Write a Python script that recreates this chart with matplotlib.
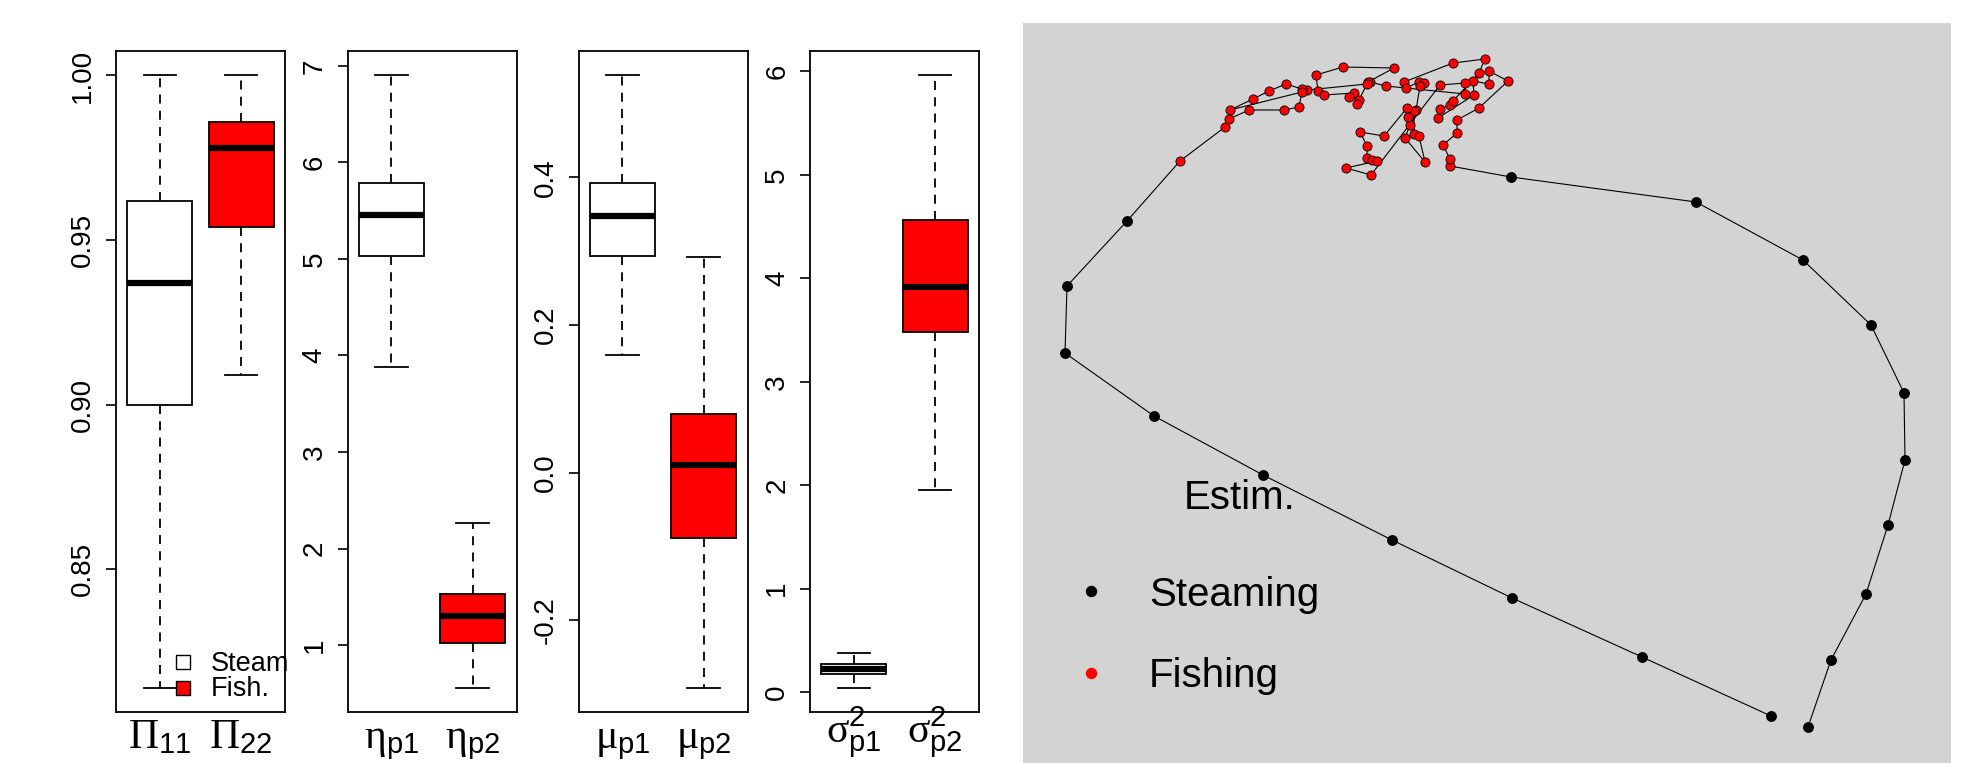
import matplotlib
matplotlib.use("Agg")
import numpy as np
import matplotlib.pyplot as plt

plt.rcParams['font.family'] = ['Liberation Sans', 'DejaVu Sans']
plt.rcParams['mathtext.fontset'] = 'custom'
plt.rcParams['mathtext.rm'] = 'Liberation Serif'
plt.rcParams['mathtext.sf'] = 'Liberation Sans'
plt.rcParams['mathtext.default'] = 'rm'

# ---------------------------------------------------------------
# box summaries: whisker low, q1, median, q3, whisker high
# ---------------------------------------------------------------
pi_steam = [0.814, 0.900, 0.937, 0.962, 1.000]
pi_fish = [0.909, 0.954, 0.978, 0.986, 1.000]
eta_steam = [3.88, 5.03, 5.45, 5.79, 6.90]
eta_fish = [0.56, 1.02, 1.30, 1.53, 2.26]
mu_steam = [0.160, 0.294, 0.347, 0.393, 0.538]
mu_fish = [-0.291, -0.088, 0.011, 0.079, 0.292]
sig_steam = [0.045, 0.180, 0.228, 0.275, 0.378]
sig_fish = [1.95, 3.48, 3.92, 4.56, 5.96]

pi_labels = [r'$\Pi_{\mathsf{11}}$', r'$\Pi_{\mathsf{22}}$']
eta_labels = [r'$\eta_{\mathsf{p1}}$', r'$\eta_{\mathsf{p2}}$']
mu_labels = [r'$\mu_{\mathsf{p1}}$', r'$\mu_{\mathsf{p2}}$']
sig_labels = [r'$\sigma^{\mathsf{2}}_{\mathsf{p1}}$', r'$\sigma^{\mathsf{2}}_{\mathsf{p2}}$']

pi_ticks = [0.85, 0.90, 0.95, 1.00]
pi_ticklabels = ['0.85', '0.90', '0.95', '1.00']
eta_ticks = [1, 2, 3, 4, 5, 6, 7]
mu_ticks = [-0.2, 0.0, 0.2, 0.4]
mu_ticklabels = ['-0.2', '0.0', '0.2', '0.4']
sig_ticks = [0, 1, 2, 3, 4, 5, 6]

# ---------------------------------------------------------------
# estimated track (arbitrary km units): steaming out, fishing, steaming back
# ---------------------------------------------------------------
steam_out_x = [80.8, 83.1, 86.6, 88.8, 90.5, 90.4, 87.1, 80.3, 69.6, 51.1]
steam_out_y = [7.3, 14.0, 20.6, 27.5, 34.0, 40.7, 47.5, 54.0, 59.8, 62.3]

fish_x = [45.0, 45.0, 44.3, 45.7, 45.7, 47.9, 50.8, 48.9, 48.9, 47.3,
          47.4, 43.8, 44.0, 45.0, 45.3, 47.9, 48.5, 45.3, 40.4, 40.6,
          41.9, 42.4, 42.0, 41.6, 41.4, 41.4, 41.9, 42.5, 40.5, 41.0,
          40.8, 40.7, 38.4, 36.0, 36.7, 36.7, 37.2, 37.7, 34.6, 37.1,
          44.0, 46.5, 46.5, 38.6, 37.0, 36.8, 39.4, 34.3, 31.6, 31.8,
          32.4, 35.4, 34.9, 35.9, 35.7, 36.7, 30.7, 30.2, 28.6, 26.9,
          25.3, 23.0, 30.2, 29.9, 28.4, 24.9, 22.9, 22.5, 18.0]
fish_y = [63.4, 64.1, 65.5, 66.7, 68.0, 69.2, 71.9, 72.9, 71.6, 71.9,
          70.5, 68.2, 69.1, 69.5, 69.9, 72.7, 74.1, 73.7, 71.8, 71.2,
          71.8, 71.7, 71.4, 69.0, 68.9, 66.6, 66.4, 63.8, 66.2, 67.5,
          68.3, 69.2, 66.4, 66.8, 65.4, 64.2, 64.0, 63.9, 63.2, 62.5,
          71.5, 71.7, 70.6, 71.4, 71.8, 71.8, 73.2, 73.3, 72.5, 70.9,
          70.5, 70.7, 70.3, 70.0, 69.6, 71.6, 71.0, 71.1, 71.6, 70.9,
          70.1, 69.0, 70.8, 69.3, 69.0, 69.0, 68.1, 67.3, 63.9]

steam_back_x = [12.7, 6.7, 6.5, 15.4, 26.3, 39.2, 51.2, 64.2, 77.1]
steam_back_y = [57.9, 51.4, 44.7, 38.4, 32.5, 26.0, 20.2, 14.3, 8.4]

W, H = 1969, 763
fig = plt.figure(figsize=(W / 100, H / 100), dpi=100)

# -------------------------------
# boxplot panels
# -------------------------------
panels = [
    (pi_steam, pi_fish, pi_labels, pi_ticks, pi_ticklabels, 116),
    (eta_steam, eta_fish, eta_labels, eta_ticks, [str(t) for t in eta_ticks], 347.5),
    (mu_steam, mu_fish, mu_labels, mu_ticks, mu_ticklabels, 578.5),
    (sig_steam, sig_fish, sig_labels, sig_ticks, [str(t) for t in sig_ticks], 810),
]

def box_stats(v):
    return dict(whislo=v[0], q1=v[1], med=v[2], q3=v[3], whishi=v[4], fliers=[])

box_axes = []
for steam, fish, xlabs, yt, ytl, left in panels:
    ax = fig.add_axes([left / W, (H - 712) / H, 169 / W, 661 / H])
    bp = ax.bxp([box_stats(steam), box_stats(fish)], positions=[1, 2],
                widths=0.8, capwidths=0.4, patch_artist=True, showfliers=False,
                boxprops=dict(lw=1.3, edgecolor='black'),
                whiskerprops=dict(lw=1.3, color='black', ls=(0, (5, 4))),
                capprops=dict(lw=1.3, color='black'),
                medianprops=dict(lw=4.5, color='black', solid_capstyle='butt'))
    for patch, col in zip(bp['boxes'], ['white', 'red']):
        patch.set_facecolor(col)

    lo = min(steam[0], fish[0])
    hi = max(steam[4], fish[4])
    pad = 0.04 * (hi - lo)
    ax.set_ylim(lo - pad, hi + pad)
    ax.set_xlim(0.46, 2.54)

    ax.set_yticks(yt, ytl)
    for t in ax.get_yticklabels():
        t.set_rotation(90)
        t.set_va('center')
    ax.set_xticks([1, 2], xlabs)
    for t in ax.get_xticklabels():
        t.set_va('baseline')
    ax.tick_params(axis='y', length=7.2, width=1.2, labelsize=20, pad=7)
    ax.tick_params(axis='x', length=0, labelsize=30, pad=26)
    for s in ax.spines.values():
        s.set_linewidth(1.3)
    box_axes.append(ax)

box_axes[3].tick_params(axis='x', pad=22)

# legend inside first panel
ax0 = box_axes[0]
ax0.plot([0.399], [0.075], marker='s', ms=9.5, mfc='white', mec='black', mew=1.0,
         transform=ax0.transAxes, clip_on=False)
ax0.plot([0.399], [0.036], marker='s', ms=9.5, mfc='red', mec='black', mew=1.0,
         transform=ax0.transAxes, clip_on=False)
ax0.text(0.562, 0.073, 'Steam', fontsize=19.5, va='center', ha='left',
         transform=ax0.transAxes, clip_on=False)
ax0.text(0.562, 0.035, 'Fish.', fontsize=19.5, va='center', ha='left',
         transform=ax0.transAxes, clip_on=False)

# -------------------------------
# track panel
# -------------------------------
axt = fig.add_axes([1023 / W, 0, 928 / W, 740 / H])
axt.set_facecolor('#d3d3d3')
for s in axt.spines.values():
    s.set_visible(False)
axt.set_xticks([])
axt.set_yticks([])
axt.set_xlim(2.3, 95.1)
axt.set_ylim(3.7, 77.7)

track_x = steam_out_x + fish_x + steam_back_x
track_y = steam_out_y + fish_y + steam_back_y
axt.plot(track_x, track_y, color='black', lw=0.8, zorder=1)
axt.plot(steam_out_x + steam_back_x, steam_out_y + steam_back_y, ls='none',
         marker='o', ms=6.8, mfc='black', mec='black', zorder=2)
axt.plot(fish_x, fish_y, ls='none', marker='o', ms=6.6, mfc='red',
         mec='black', mew=0.6, zorder=3)

axt.text(0.1728, 0.3426, 'Estim.', fontsize=29, ha='left', va='baseline',
         transform=axt.transAxes)
axt.plot([0.073], [0.2322], marker='o', ms=7.2, color='black', transform=axt.transAxes)
axt.plot([0.073], [0.1216], marker='o', ms=7.2, color='red', transform=axt.transAxes)
axt.text(0.1357, 0.2124, 'Steaming', fontsize=29, ha='left', va='baseline',
         transform=axt.transAxes)
axt.text(0.1357, 0.1026, 'Fishing', fontsize=29, ha='left', va='baseline',
         transform=axt.transAxes)

fig.savefig('out.png', dpi=100)
